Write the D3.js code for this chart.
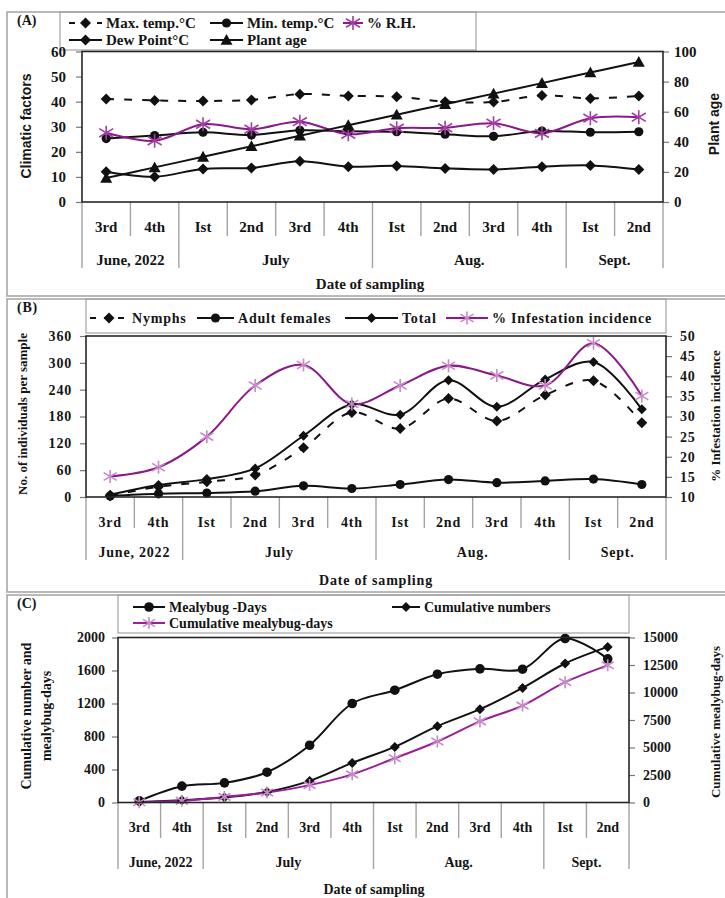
<!DOCTYPE html>
<html>
<head>
<meta charset="utf-8">
<script src="https://cdn.jsdelivr.net/npm/d3@7"></script>
<style>
  body { margin: 0; background: #fff; }
  svg text { font-family: "Liberation Serif", "Times New Roman", serif; font-weight: bold; fill: #151515; }
</style>
</head>
<body>
<svg id="chart" width="725" height="898"></svg>
<script>
// Sampling weeks and months (shared by all three panels)
const weeks = ["3rd", "4th", "Ist", "2nd", "3rd", "4th", "Ist", "2nd", "3rd", "4th", "Ist", "2nd"];
const months = ["June, 2022", "July", "Aug.", "Sept."];
const monthSpans = [2, 4, 4, 2];

// (A) climatic factors
const maxTemp = [41.1, 40.5, 40.3, 40.7, 43.0, 42.3, 42.0, 40.0, 39.9, 42.5, 41.3, 42.3];
const minTemp = [25.3, 26.5, 27.8, 26.7, 28.6, 28.2, 28.0, 27.0, 26.2, 28.3, 27.8, 28.0];
const relHumidity = [27.6, 24.4, 31.0, 29.0, 32.0, 27.0, 29.4, 29.6, 31.4, 27.4, 33.4, 33.8];
const dewPoint = [12.1, 10.1, 13.2, 13.6, 16.2, 14.1, 14.4, 13.4, 13.0, 14.1, 14.6, 13.0];
const plantAge = [16, 23, 30, 37, 44, 51, 58, 65, 72, 79, 86, 93];
const climateTicks = [0, 10, 20, 30, 40, 50, 60];
const ageTicks = [0, 20, 40, 60, 80, 100];

// (B) mealybug population
const nymphs = [3, 23, 34, 49, 110, 189, 153, 220, 170, 228, 260, 166];
const adultFemales = [2, 7, 9, 13, 25, 19, 28, 39, 32, 36, 40, 28];
const totals = [5, 27, 40, 64, 137, 207, 184, 261, 202, 263, 302, 196];
const infestation = [15.1, 17.4, 25.0, 37.7, 42.8, 33.1, 37.7, 42.6, 40.2, 37.7, 48.2, 35.1];
const countTicks = [0, 60, 120, 180, 240, 300, 360];
const incidenceTicks = [10, 15, 20, 25, 30, 35, 40, 45, 50];

// (C) mealybug-days
const mealybugDays = [20, 198, 238, 367, 694, 1200, 1361, 1555, 1620, 1616, 1988, 1741];
const cumNumbers = [5, 28, 60, 128, 262, 480, 674, 925, 1131, 1389, 1685, 1886];
const cumMealybugDays = [20, 150, 510, 915, 1580, 2560, 4025, 5545, 7375, 8810, 10940, 12470];
const cumTicks = [0, 400, 800, 1200, 1600, 2000];
const cumDayTicks = [0, 2500, 5000, 7500, 10000, 12500, 15000];

const purple = "#8a1a8a";
const lightPurple = "#c78ac7";
const frameGrey = "#a3a3a3";

const svg = d3.select("#chart");

function markerPath(type, r) {
  if (type === "diamond") return `M0,${-r}L${r},0L0,${r}L${-r},0Z`;
  if (type === "triangle") return `M0,${-r}L${r},${r * 0.8}L${-r},${r * 0.8}Z`;
  if (type === "star") return `M${-r},${-r * 0.6}L${r},${r * 0.6}M${-r},${r * 0.6}L${r},${-r * 0.6}M0,${-r}L0,${r}`;
  return "";
}

function drawMarker(g, s, cx, cy) {
  if (s.marker === "circle") {
    g.append("circle").attr("cx", cx).attr("cy", cy).attr("r", s.r).attr("fill", s.markerColor);
  } else if (s.marker === "star") {
    g.append("path")
      .attr("transform", `translate(${cx},${cy})`)
      .attr("d", markerPath("star", s.r))
      .attr("fill", "none")
      .attr("stroke", s.markerColor)
      .attr("stroke-width", 1.6);
  } else {
    g.append("path")
      .attr("transform", `translate(${cx},${cy})`)
      .attr("d", markerPath(s.marker, s.r))
      .attr("fill", s.markerColor);
  }
}

function drawPanel(p) {
  const g = svg.append("g").style("letter-spacing", (p.spacing || 0) + "px");
  const pl = p.plot;

  // outer panel frame
  g.append("rect")
    .attr("x", 7).attr("y", p.top)
    .attr("width", 780).attr("height", p.bottom - p.top)
    .attr("fill", "none").attr("stroke", frameGrey).attr("stroke-width", 1.5);

  // legend box
  g.append("rect")
    .attr("x", p.legendBox[0]).attr("y", p.legendBox[1])
    .attr("width", p.legendBox[2] - p.legendBox[0]).attr("height", p.legendBox[3] - p.legendBox[1])
    .attr("fill", "none").attr("stroke", frameGrey).attr("stroke-width", 1.2);

  g.append("text")
    .attr("x", 17).attr("y", p.top + 13)
    .style("font-size", "14px")
    .text(p.tag);

  const x = d3.scaleBand().domain(d3.range(weeks.length)).range([pl.x0, pl.x1]);
  const yL = d3.scaleLinear().domain(p.leftDomain).range([pl.y1, pl.y0]);
  const yR = d3.scaleLinear().domain(p.rightDomain).range([pl.y1, pl.y0]);

  // left and right value axes
  const axL = g.append("g")
    .attr("transform", `translate(${pl.x0},0)`)
    .call(d3.axisLeft(yL).tickValues(p.leftTicks).tickFormat(d3.format("d")).tickSize(6).tickPadding(p.padL));
  const axR = g.append("g")
    .attr("transform", `translate(${pl.x1},0)`)
    .call(d3.axisRight(yR).tickValues(p.rightTicks).tickFormat(d3.format("d")).tickSize(6).tickPadding(p.padR));
  [axL, axR].forEach(ax => {
    ax.select(".domain").remove();
    ax.selectAll("line").attr("stroke", "#777").attr("stroke-width", 1.2);
    ax.selectAll("text")
      .attr("font-family", null).attr("fill", null)
      .style("font-size", p.tickSize + "px");
  });

  // category axis: dividers, week labels, month labels
  const bw = x.bandwidth();
  const boundaries = d3.cumsum(monthSpans);
  for (let i = 0; i <= weeks.length; i++) {
    const xx = i === weeks.length ? pl.x1 : x(i);
    const isLong = i === 0 || boundaries.includes(i);
    g.append("line")
      .attr("x1", xx).attr("x2", xx)
      .attr("y1", pl.y1).attr("y2", isLong ? p.longDiv : p.shortDiv)
      .attr("stroke", frameGrey).attr("stroke-width", 1.4);
  }
  g.selectAll(".wk")
    .data(weeks)
    .enter().append("text")
    .attr("x", (d, i) => x(i) + bw / 2)
    .attr("y", p.weekY)
    .attr("dy", "0.35em")
    .attr("text-anchor", "middle")
    .style("font-size", p.catSize + "px")
    .text(d => d);
  let start = 0;
  months.forEach((m, j) => {
    const end = start + monthSpans[j];
    g.append("text")
      .attr("x", (x(start) + (end === weeks.length ? pl.x1 : x(end))) / 2)
      .attr("y", p.monthY)
      .attr("dy", "0.35em")
      .attr("text-anchor", "middle")
      .style("font-size", p.catSize + "px")
      .text(m);
    start = end;
  });

  g.append("text")
    .attr("x", p.titleX).attr("y", p.titleY)
    .attr("dy", "0.35em")
    .attr("text-anchor", "middle")
    .style("font-size", p.catSize + "px")
    .text("Date of sampling");

  // axis titles
  p.axisTitles.forEach(t => {
    g.append("text")
      .attr("transform", `translate(${t.x},${t.y}) rotate(-90)`)
      .attr("text-anchor", "middle")
      .attr("dy", "0.35em")
      .style("font-size", t.size + "px")
      .style("letter-spacing", "0px")
      .style("font-family", t.sans ? "'Liberation Sans', Arial, sans-serif" : null)
      .text(t.text);
  });

  // series lines
  p.series.forEach(s => {
    const y = s.axis === "R" ? yR : yL;
    const line = d3.line()
      .x((d, i) => x(i) + bw / 2)
      .y(d => y(d))
      .curve(d3.curveCatmullRom.alpha(0.5));
    g.append("path")
      .datum(s.values)
      .attr("fill", "none")
      .attr("stroke", s.color)
      .attr("stroke-width", s.width || 2)
      .attr("stroke-dasharray", s.dash || null)
      .attr("d", line);
  });
  p.series.forEach(s => {
    const y = s.axis === "R" ? yR : yL;
    s.values.forEach((v, i) => drawMarker(g, s, x(i) + bw / 2, y(v)));
  });

  // plot frame
  g.append("rect")
    .attr("x", pl.x0).attr("y", pl.y0)
    .attr("width", pl.x1 - pl.x0).attr("height", pl.y1 - pl.y0)
    .attr("fill", "none").attr("stroke", "#262626").attr("stroke-width", 1.6);

  // legend entries
  p.legend.forEach(it => {
    const s = p.series[it.series];
    g.append("line")
      .attr("x1", it.x).attr("x2", it.x + it.w)
      .attr("y1", it.y).attr("y2", it.y)
      .attr("stroke", s.color).attr("stroke-width", 2)
      .attr("stroke-dasharray", s.dash ? "6,8" : null);
    drawMarker(g, s, it.x + it.w / 2, it.y);
    g.append("text")
      .attr("x", it.x + it.w + 4).attr("y", it.y)
      .attr("dy", "0.35em")
      .style("font-size", p.legendSize + "px")
      .text(it.label);
  });
}

drawPanel({
  tag: "(A)", top: 12, bottom: 296,
  plot: { x0: 82, x1: 663, y0: 51.5, y1: 202 },
  legendBox: [60, 12, 476, 50],
  leftDomain: [0, 60], leftTicks: climateTicks, padL: 10,
  rightDomain: [0, 100], rightTicks: ageTicks, padR: 5,
  tickSize: 15, catSize: 15, legendSize: 15,
  weekY: 227, monthY: 260, shortDiv: 236, longDiv: 268,
  titleX: 370, titleY: 284,
  axisTitles: [
    { text: "Climatic factors", x: 26, y: 126, size: 14, sans: true },
    { text: "Plant age", x: 714, y: 124, size: 14, sans: true }
  ],
  series: [
    { values: maxTemp, axis: "L", color: "#111", dash: "8,10", marker: "diamond", markerColor: "#111", r: 5.5 },
    { values: minTemp, axis: "L", color: "#111", marker: "circle", markerColor: "#111", r: 4.6 },
    { values: relHumidity, axis: "L", color: purple, marker: "star", markerColor: "#a23da2", r: 7 },
    { values: dewPoint, axis: "L", color: "#111", marker: "diamond", markerColor: "#111", r: 5.5 },
    { values: plantAge, axis: "R", color: "#111", marker: "triangle", markerColor: "#111", r: 6 }
  ],
  legend: [
    { series: 0, label: "Max. temp.\u00B0C", x: 69, w: 33, y: 23 },
    { series: 1, label: "Min. temp.\u00B0C", x: 210, w: 33, y: 23 },
    { series: 2, label: "% R.H.", x: 343, w: 20, y: 23 },
    { series: 3, label: "Dew Point\u00B0C", x: 69, w: 33, y: 40 },
    { series: 4, label: "Plant age", x: 210, w: 33, y: 40 }
  ]
});

drawPanel({
  tag: "(B)", top: 299, bottom: 592, spacing: 0.8,
  plot: { x0: 86, x1: 666, y0: 336, y1: 497 },
  legendBox: [86, 299, 666, 333],
  leftDomain: [0, 360], leftTicks: countTicks, padL: 8,
  rightDomain: [10, 50], rightTicks: incidenceTicks, padR: 8,
  tickSize: 14, catSize: 14, legendSize: 14,
  weekY: 522, monthY: 552, shortDiv: 528, longDiv: 560,
  titleX: 376, titleY: 580,
  axisTitles: [
    { text: "No. of individuals per sample", x: 22, y: 414, size: 13 },
    { text: "% Infestation incidence", x: 715, y: 416, size: 13 }
  ],
  series: [
    { values: nymphs, axis: "L", color: "#111", dash: "8,10", marker: "diamond", markerColor: "#111", r: 5.5 },
    { values: adultFemales, axis: "L", color: "#111", marker: "circle", markerColor: "#111", r: 4.6 },
    { values: totals, axis: "L", color: "#111", marker: "diamond", markerColor: "#111", r: 5 },
    { values: infestation, axis: "R", color: purple, marker: "star", markerColor: lightPurple, r: 6.5 }
  ],
  legend: [
    { series: 0, label: "Nymphs", x: 90, w: 38, y: 318 },
    { series: 1, label: "Adult females", x: 197, w: 37, y: 318 },
    { series: 2, label: "Total", x: 345, w: 53, y: 318 },
    { series: 3, label: "% Infestation incidence", x: 446, w: 42, y: 318 }
  ]
});

drawPanel({
  tag: "(C)", top: 595, bottom: 920,
  plot: { x0: 118, x1: 629, y0: 637.5, y1: 802.5 },
  legendBox: [118, 595, 629, 633],
  leftDomain: [0, 2000], leftTicks: cumTicks, padL: 7,
  rightDomain: [0, 15000], rightTicks: cumDayTicks, padR: 8,
  tickSize: 14, catSize: 14, legendSize: 14,
  weekY: 827, monthY: 862, shortDiv: 838, longDiv: 869,
  titleX: 374, titleY: 889,
  axisTitles: [
    { text: "Cumulative number and", x: 26, y: 716, size: 14 },
    { text: "mealybug-days", x: 46, y: 716, size: 14 },
    { text: "Cumulative mealybug-days", x: 715, y: 722, size: 13 }
  ],
  series: [
    { values: mealybugDays, axis: "L", color: "#111", marker: "circle", markerColor: "#111", r: 4.8 },
    { values: cumNumbers, axis: "L", color: "#111", marker: "diamond", markerColor: "#111", r: 5 },
    { values: cumMealybugDays, axis: "R", color: "#9a1f9a", marker: "star", markerColor: lightPurple, r: 6 }
  ],
  legend: [
    { series: 0, label: "Mealybug -Days", x: 133, w: 32, y: 607 },
    { series: 1, label: "Cumulative numbers", x: 392, w: 28, y: 607 },
    { series: 2, label: "Cumulative mealybug-days", x: 133, w: 32, y: 623 }
  ]
});
</script>
</body>
</html>
